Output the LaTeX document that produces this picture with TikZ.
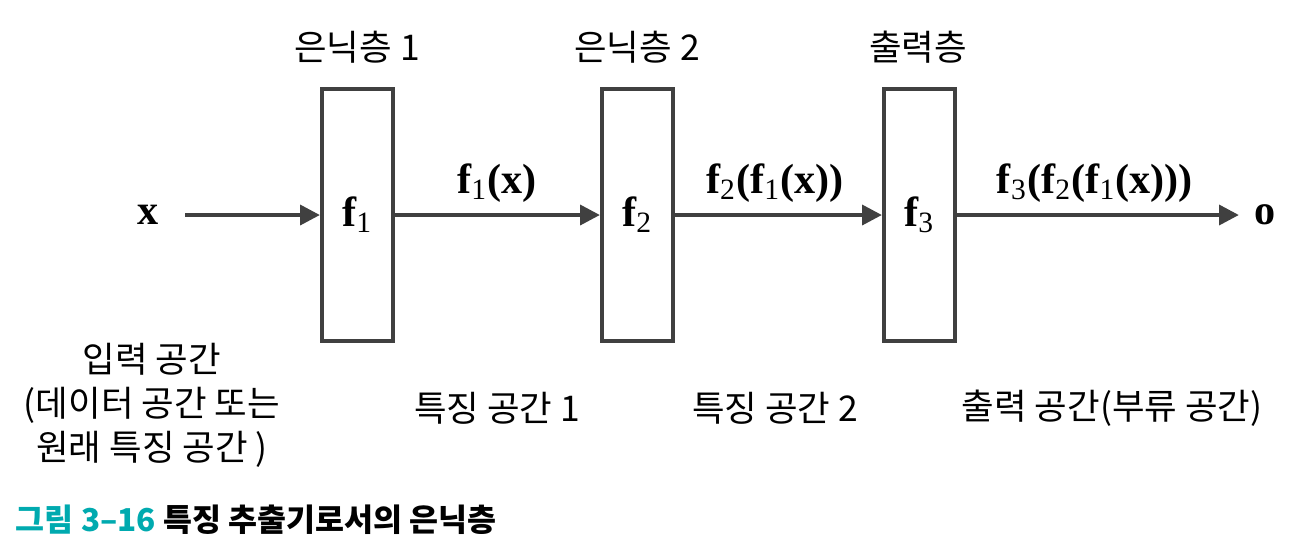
\documentclass[tikz,border=0pt]{standalone}
\usepackage{fontspec}
\setmainfont{Liberation Serif}
\newfontfamily\kr{Noto Sans CJK KR}
\usetikzlibrary{arrows.meta}
\definecolor{lgray}{RGB}{64,64,64}
\definecolor{fteal}{RGB}{0,170,175}
\newcommand{\fsub}[1]{f\textsubscript{\mdseries #1}}

\begin{document}
\begin{tikzpicture}[x=0.0125cm,y=-0.0125cm,
                    layer/.style={draw=lgray,line width=1.4pt,minimum width=0.89cm,
                    minimum height=3.16cm,inner sep=0pt,font=\fontsize{15}{18}\selectfont\bfseries},
                    arr/.style={-{Triangle[length=7pt,width=7pt]},lgray,line width=1.4pt},
                    fx/.style={font=\fontsize{15}{18}\selectfont\bfseries},
                    kor/.style={font=\kr\fontsize{12.6}{15.7}\selectfont,align=center}
]
\useasboundingbox (0,0) rectangle (1309,552);
% layers
\node[layer] (l1) at (357.5,215) {\fsub{1}};
\node[layer] (l2) at (637.5,215) {\fsub{2}};
\node[layer] (l3) at (919.5,215) {\fsub{3}};
\node[kor] (t1) at (357,47) {은닉층 1};
\node[kor] (t2) at (637,47) {은닉층 2};
\node[kor] (t3) at (918,47) {출력층};
% input and output
\node[fx] (in) at (148,215) {x};
\node[fx] (out) at (1265,215) {o};
\draw[arr,shorten <=6pt] (in)--(l1);
\draw[arr] (l1)--(l2);
\draw[arr] (l2)--(l3);
\draw[arr,shorten >=2pt] (l3)--(out);
% mappings
\node[fx] (m1) at (497,183) {\fsub{1}(x)};
\node[fx] (m2) at (775,183) {\fsub{2}(\fsub{1}(x))};
\node[fx] (m3) at (1095,183) {\fsub{3}(\fsub{2}(\fsub{1}(x)))};
% spaces
\node[kor] (s0) at (152,405) {입력 공간\\(데이터 공간 또는\\원래 특징 공간 )};
\node[kor] (s1) at (497,408) {특징 공간 1};
\node[kor] (s2) at (775,408) {특징 공간 2};
\node[kor] (s3) at (1112,408) {출력 공간(부류 공간)};
% caption
\node[anchor=west,font=\kr\fontsize{11.2}{14}\selectfont\bfseries] (cap) at (6,520)
  {{\color{fteal}그림 3–16} 특징 추출기로서의 은닉층};
\end{tikzpicture}
\end{document}
